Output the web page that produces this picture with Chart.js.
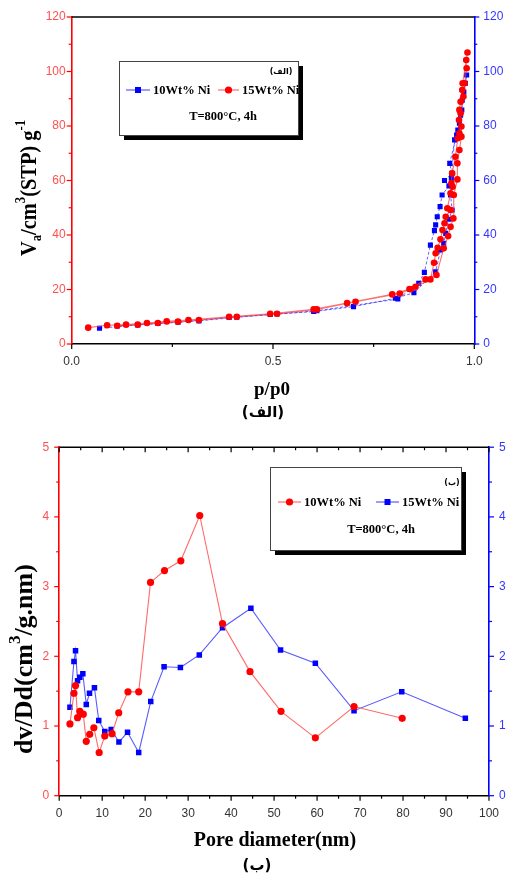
<!DOCTYPE html>
<html>
<head>
<meta charset="utf-8">
<script src="https://cdn.jsdelivr.net/npm/chart.js@4/dist/chart.umd.min.js"></script>
<style>
  html, body { margin: 0; padding: 0; background: #fff; }
  #wrap { position: relative; width: 510px; height: 873px; overflow: hidden; }
  canvas { position: absolute; left: 0; }
</style>
</head>
<body>
<div id="wrap">
  <canvas id="iso" width="510" height="430" style="top:0"></canvas>
  <canvas id="psd" width="510" height="443" style="top:430px"></canvas>
</div>
<script>
// ---- N2 isotherms (p/p0 vs adsorbed volume, cm3 STP/g) ----
// 10Wt% Ni : adsorption branch, then desorption branch
const ni10AdsP = [0.069,0.164,0.264,0.391,0.493,0.601,0.700,0.804,0.850,0.904,0.916,0.924,0.929,0.937,0.945,0.941,0.943,0.951,0.959,0.969,0.970,0.974,0.981];
const ni10AdsV = [5.8,7.0,8.0,9.7,10.8,11.9,13.7,16.8,18.8,26.5,34.5,37.0,40.6,45.8,49.2,54.7,60.8,74.9,78.5,85.9,89.5,92.5,98.7];
const ni10DesP = [0.978,0.966,0.963,0.956,0.939,0.944,0.926,0.937,0.920,0.915,0.908,0.904,0.901,0.891,0.876,0.862,0.810,0.609,0.510,0.410,0.316,0.214,0.113];
const ni10DesV = [95.7,84.0,81.0,76.7,66.3,62.6,60.0,58.0,54.7,50.4,46.7,43.7,41.6,36.3,26.3,22.3,16.5,12.2,11.0,9.8,8.5,7.5,6.6];
// 15Wt% Ni
const ni15AdsP = [0.041,0.088,0.135,0.187,0.236,0.290,0.391,0.493,0.601,0.684,0.796,0.839,0.879,0.906,0.924,0.935,0.941,0.948,0.949,0.958,0.958,0.963,0.968,0.968,0.966,0.973,0.976,0.981,0.980,0.983];
const ni15AdsV = [6.0,6.9,7.1,7.7,8.3,8.8,10.0,11.1,12.7,15.0,18.2,20.2,23.7,25.3,35.1,39.6,43.0,46.1,54.7,60.4,66.3,71.2,76.1,79.8,84.7,90.8,95.7,101.2,104.2,107.0];
const ni15DesP = [0.971,0.970,0.966,0.963,0.962,0.963,0.959,0.953,0.945,0.943,0.946,0.941,0.933,0.941,0.929,0.926,0.921,0.916,0.909,0.904,0.900,0.891,0.854,0.842,0.815,0.705,0.609,0.510,0.410,0.316,0.264,0.214,0.164,0.113];
const ni15DesV = [95.7,93.2,88.9,85.9,82.2,77.3,75.5,68.7,62.6,59.0,57.7,55.3,49.8,49.2,46.7,44.3,41.8,38.4,35.3,33.3,29.8,23.7,21.0,20.1,18.5,15.5,12.7,11.1,10.0,8.8,8.2,7.7,7.1,6.7];

// ---- pore size distribution (pore diameter nm vs dv/Dd) ----
const poreD10 = [2.5,3.43,3.8,4.27,4.8,5.6,6.3,7.1,8.06,9.3,10.6,12.3,13.85,16.0,18.5,21.25,24.5,28.3,32.7,38.0,44.4,51.6,59.6,68.6,79.8];
const dvdd10  = [1.03,1.47,1.58,1.12,1.21,1.17,0.78,0.88,0.975,0.62,0.855,0.89,1.19,1.49,1.49,3.06,3.23,3.37,4.02,2.47,1.78,1.21,0.83,1.28,1.11];
const poreD15 = [2.5,3.43,3.8,4.27,4.8,5.5,6.3,7.05,8.2,9.2,10.6,12.1,13.9,15.9,18.5,21.3,24.4,28.2,32.6,38.0,44.6,51.5,59.6,68.6,79.7,94.5];
const dvdd15  = [1.27,1.925,2.08,1.65,1.70,1.75,1.31,1.47,1.55,1.08,0.92,0.95,0.77,0.91,0.62,1.35,1.85,1.84,2.02,2.41,2.69,2.09,1.90,1.22,1.49,1.11];

// axis ranges and tick steps
const isoX = [0, 1, 0.5, 0.25];      // min, max, major, minor
const isoY = [0, 120, 20, 10];
const psdX = [0, 100, 10, 5];
const psdY = [0, 5, 1, 0.5];

const RED = '#ff0000', BLUE = '#0000ff';
const SERIF = '"Liberation Serif", "Times New Roman", serif';
const SANS = '"Liberation Sans", Arial, sans-serif';
const ARABIC = '"DejaVu Sans", sans-serif';

const pts = (xs, ys) => xs.map((x, i) => ({ x, y: ys[i] }));

// draws a run of text pieces (with sub/superscripts) centred on cx, optionally rotated
function drawRich(ctx, parts, cx, cy, rot, squeeze) {
  ctx.save();
  ctx.translate(cx, cy);
  if (rot) ctx.rotate(rot);
  ctx.scale(squeeze || 1, 1);
  let total = 0;
  parts.forEach(p => { ctx.font = p.f; total += ctx.measureText(p.t).width; });
  let x = -total / 2;
  ctx.textBaseline = 'alphabetic';
  ctx.textAlign = 'left';
  ctx.fillStyle = '#000';
  parts.forEach(p => {
    ctx.font = p.f;
    ctx.fillText(p.t, x, p.dy || 0);
    x += ctx.measureText(p.t).width;
  });
  ctx.restore();
}

// frame line on top plus major/minor tick marks for every axis
const frameTicks = {
  id: 'frameTicks',
  afterDraw(chart, args, o) {
    const { ctx, chartArea: a, scales } = chart;
    ctx.save();
    ctx.strokeStyle = '#000';
    ctx.lineWidth = 1.4;
    ctx.beginPath(); ctx.moveTo(a.left, a.top); ctx.lineTo(a.right, a.top); ctx.stroke();
    o.axes.forEach(spec => {
      const s = scales[spec.id];
      const r = spec.range;
      ctx.strokeStyle = spec.color;
      ctx.lineWidth = 1.2;
      const n = Math.round((r[1] - r[0]) / r[3]);
      for (let i = 0; i <= n; i++) {
        const v = r[0] + i * r[3];
        const q = v / r[2];
        const major = Math.abs(q - Math.round(q)) < 1e-6;
        const len = major ? 5 : 3;
        const px = s.getPixelForValue(v);
        ctx.beginPath();
        if (spec.side === 'left') { ctx.moveTo(a.left, px); ctx.lineTo(a.left - len, px); }
        else if (spec.side === 'right') { ctx.moveTo(a.right, px); ctx.lineTo(a.right + len, px); }
        else if (spec.side === 'bottom') { ctx.moveTo(px, a.bottom); ctx.lineTo(px, a.bottom + len); }
        else { ctx.moveTo(px, a.top); ctx.lineTo(px, a.top + len); }
        ctx.stroke();
      }
    });
    ctx.restore();
  }
};

// axis titles and the panel caption
const captions = {
  id: 'captions',
  afterDraw(chart, args, o) {
    const ctx = chart.ctx;
    drawRich(ctx, o.xTitle.parts, o.xTitle.x, o.xTitle.y, 0, 1);
    drawRich(ctx, o.yTitle.parts, o.yTitle.x, o.yTitle.y, -Math.PI / 2, o.yTitle.squeeze);
    ctx.save();
    ctx.font = 'bold 15px ' + ARABIC;
    ctx.fillStyle = '#000';
    ctx.textAlign = 'center';
    ctx.textBaseline = 'middle';
    ctx.fillText(o.panel.t, o.panel.x, o.panel.y);
    ctx.restore();
  }
};

// framed legend box with drop shadow
const legendBox = {
  id: 'legendBox',
  afterDraw(chart, args, o) {
    const ctx = chart.ctx;
    const b = o.box;
    ctx.save();
    ctx.fillStyle = '#000';
    ctx.fillRect(b.x + 5, b.y + 5, b.w, b.h);
    ctx.fillStyle = '#fff';
    ctx.fillRect(b.x, b.y, b.w, b.h);
    ctx.strokeStyle = '#444';
    ctx.lineWidth = 1;
    ctx.strokeRect(b.x + 0.5, b.y + 0.5, b.w, b.h);
    o.items.forEach(it => {
      ctx.strokeStyle = it.line;
      ctx.lineWidth = 1.2;
      ctx.beginPath(); ctx.moveTo(it.x0, o.rowY); ctx.lineTo(it.x1, o.rowY); ctx.stroke();
      ctx.fillStyle = it.color;
      const cx = (it.x0 + it.x1) / 2;
      if (it.shape === 'circle') { ctx.beginPath(); ctx.arc(cx, o.rowY, 3.6, 0, Math.PI * 2); ctx.fill(); }
      else { ctx.fillRect(cx - 3, o.rowY - 3, 6, 6); }
      ctx.fillStyle = '#000';
      ctx.font = 'bold 12.5px ' + SERIF;
      ctx.textAlign = 'left';
      ctx.textBaseline = 'middle';
      ctx.fillText(it.label, it.x1 + 3, o.rowY + 1);
    });
    ctx.font = 'bold 12.5px ' + SERIF;
    ctx.textAlign = 'center';
    ctx.fillText(o.note.t, o.note.x, o.note.y);
    ctx.font = 'bold 8px ' + ARABIC;
    ctx.fillText(o.tag.t, o.tag.x, o.tag.y);
    ctx.restore();
  }
};

function axisY(pos, range, tickColor, borderColor, width, pad) {
  return {
    type: 'linear', position: pos, min: range[0], max: range[1],
    ticks: { stepSize: range[2], color: tickColor, padding: pad, font: { family: SANS, size: 12 } },
    grid: { display: false, drawTicks: false },
    border: { display: true, color: borderColor, width: 1.6 },
    afterFit(s) { s.width = width; }
  };
}
function axisX(range, height, pad, fmt) {
  return {
    type: 'linear', position: 'bottom', min: range[0], max: range[1],
    ticks: { stepSize: range[2], color: '#333', padding: pad, font: { family: SANS, size: 12 },
             callback: v => fmt(v) },
    grid: { display: false, drawTicks: false },
    border: { display: true, color: '#000', width: 1.4 },
    afterFit(s) { s.height = height; }
  };
}

const baseOpts = {
  responsive: false, animation: false, devicePixelRatio: 1,
  plugins: { legend: { display: false }, tooltip: { enabled: false } }
};

// ---------- isotherm panel ----------
new Chart(document.getElementById('iso'), {
  type: 'scatter',
  data: {
    datasets: [
      { label: '15Wt% Ni', yAxisID: 'y', data: pts(ni15AdsP.concat(ni15DesP), ni15AdsV.concat(ni15DesV)),
        showLine: true, borderColor: 'rgba(255,60,60,0.75)', borderWidth: 1.1,
        pointStyle: 'circle', pointRadius: 3.3, pointBackgroundColor: RED, pointBorderWidth: 0 },
      { label: '10Wt% Ni', yAxisID: 'y2', data: pts(ni10AdsP.concat(ni10DesP), ni10AdsV.concat(ni10DesV)),
        showLine: true, borderColor: 'rgba(60,60,255,0.8)', borderWidth: 1, borderDash: [3, 2],
        pointStyle: 'rect', pointRadius: 3.6, pointBackgroundColor: BLUE, pointBorderWidth: 0 }
    ]
  },
  options: Object.assign({}, baseOpts, {
    layout: { padding: { top: 17, left: 0, right: 0, bottom: 0 } },
    scales: {
      x: axisX(isoX, 86, 10, v => v.toFixed(1)),
      y: axisY('left', isoY, '#ff5050', RED, 71.7, 6),
      y2: axisY('right', isoY, '#3535ff', BLUE, 35.7, 9)
    },
    plugins: Object.assign({}, baseOpts.plugins, {
      frameTicks: { axes: [
        { id: 'x', side: 'bottom', range: isoX, color: '#000' },
        { id: 'y', side: 'left', range: isoY, color: RED },
        { id: 'y2', side: 'right', range: isoY, color: BLUE }
      ] },
      captions: {
        xTitle: { x: 272, y: 395, parts: [{ t: 'p/p0', f: 'bold 19px ' + SERIF }] },
        yTitle: { x: 36, y: 188, squeeze: 0.85, parts: [
          { t: 'V', f: 'bold 24px ' + SERIF },
          { t: 'a', f: 'bold 15px ' + SERIF, dy: 5 },
          { t: '/cm', f: 'bold 24px ' + SERIF },
          { t: '3', f: 'bold 15px ' + SERIF, dy: -11 },
          { t: '(STP) g', f: 'bold 24px ' + SERIF },
          { t: '-1', f: 'bold 15px ' + SERIF, dy: -11 }
        ] },
        panel: { t: '(الف)', x: 263, y: 413 }
      },
      legendBox: {
        box: { x: 119, y: 61, w: 179, h: 74 },
        rowY: 90,
        items: [
          { label: '10Wt% Ni', color: BLUE, line: '#5a5aff', shape: 'rect', x0: 126, x1: 150 },
          { label: '15Wt% Ni', color: RED, line: '#ff6a6a', shape: 'circle', x0: 218, x1: 239 }
        ],
        note: { t: 'T=800°C, 4h', x: 223, y: 117 },
        tag: { t: '(الف)', x: 281, y: 72 }
      }
    })
  }),
  plugins: [frameTicks, captions, legendBox]
});

// ---------- pore size distribution panel ----------
new Chart(document.getElementById('psd'), {
  type: 'scatter',
  data: {
    datasets: [
      { label: '10Wt% Ni', yAxisID: 'y', data: pts(poreD10, dvdd10),
        showLine: true, borderColor: '#ff6a6a', borderWidth: 1.1,
        pointStyle: 'circle', pointRadius: 3.6, pointBackgroundColor: RED, pointBorderWidth: 0 },
      { label: '15Wt% Ni', yAxisID: 'y2', data: pts(poreD15, dvdd15),
        showLine: true, borderColor: '#5a5aff', borderWidth: 1.1,
        pointStyle: 'rect', pointRadius: 3.9, pointBackgroundColor: BLUE, pointBorderWidth: 0 }
    ]
  },
  options: Object.assign({}, baseOpts, {
    layout: { padding: { top: 15, left: 0, right: 0, bottom: 0 } },
    scales: {
      x: axisX(psdX, 77.3, 11, v => String(v)),
      y: axisY('left', psdY, '#ff5050', RED, 59.2, 10),
      y2: axisY('right', psdY, '#3535ff', BLUE, 19, 10)
    },
    plugins: Object.assign({}, baseOpts.plugins, {
      frameTicks: { axes: [
        { id: 'x', side: 'bottom', range: psdX, color: '#000' },
        { id: 'x', side: 'top', range: psdX, color: '#000' },
        { id: 'y', side: 'left', range: psdY, color: RED },
        { id: 'y2', side: 'right', range: psdY, color: BLUE }
      ] },
      captions: {
        xTitle: { x: 275, y: 416, parts: [{ t: 'Pore diameter(nm)', f: 'bold 20px ' + SERIF }] },
        yTitle: { x: 32, y: 229, squeeze: 1, parts: [
          { t: 'dv/Dd(cm', f: 'bold 26px ' + SERIF },
          { t: '3', f: 'bold 17px ' + SERIF, dy: -12 },
          { t: '/g.nm)', f: 'bold 26px ' + SERIF }
        ] },
        panel: { t: '(ب)', x: 257, y: 436 }
      },
      legendBox: {
        box: { x: 270, y: 37, w: 191, h: 83 },
        rowY: 72,
        items: [
          { label: '10Wt% Ni', color: RED, line: '#ff6a6a', shape: 'circle', x0: 278, x1: 301 },
          { label: '15Wt% Ni', color: BLUE, line: '#5a5aff', shape: 'rect', x0: 376, x1: 399 }
        ],
        note: { t: 'T=800°C, 4h', x: 381, y: 100 },
        tag: { t: '(ب)', x: 452, y: 53 }
      }
    })
  }),
  plugins: [frameTicks, captions, legendBox]
});
</script>
</body>
</html>
